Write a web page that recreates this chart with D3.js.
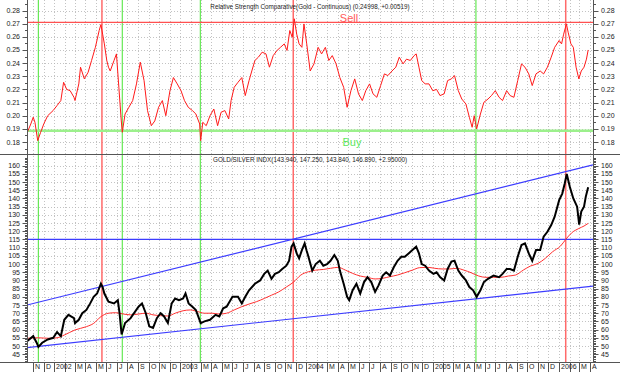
<!DOCTYPE html>
<html>
<head>
<meta charset="utf-8">
<script src="https://cdn.jsdelivr.net/npm/d3@7"></script>
<style>
  body { margin: 0; background: #fff; }
  svg { display: block; font-family: "Liberation Sans", Arial, sans-serif; }
  .lbl { font-size: 7px; fill: #222; }
  .ttl { font-size: 6.3px; fill: #222; }
</style>
</head>
<body>
<div id="chart"></div>
<script>
// Relative Strength Comparative (Gold - Continuous), top panel
const rsc = [
  ["2001-10-15",0.1874],["2001-10-25",0.1937],["2001-11-01",0.1988],["2001-11-06",0.195],["2001-11-14",0.181],
  ["2001-11-22",0.187],["2001-12-02",0.194],["2001-12-13",0.200],["2001-12-29",0.204],["2002-01-09",0.2077],
  ["2002-01-20",0.2115],["2002-01-28",0.2254],["2002-02-06",0.220],["2002-02-16",0.219],["2002-02-27",0.214],
  ["2002-03-02",0.2115],["2002-03-13",0.2242],["2002-03-18",0.2369],["2002-03-29",0.228],["2002-04-09",0.233],
  ["2002-04-19",0.242],["2002-04-30",0.252],["2002-05-11",0.2648],["2002-05-16",0.2693],["2002-05-21",0.262],
  ["2002-05-26",0.2546],["2002-06-02",0.242],["2002-06-07",0.2369],["2002-06-12",0.234],["2002-06-23",0.242],
  ["2002-06-30",0.247],["2002-07-07",0.2216],["2002-07-14",0.196],["2002-07-17",0.1874],["2002-07-25",0.2013],
  ["2002-08-05",0.2064],["2002-08-16",0.2115],["2002-08-27",0.2242],["2002-09-07",0.2407],["2002-09-18",0.2267],
  ["2002-09-28",0.2039],["2002-10-09",0.1924],["2002-10-19",0.196],["2002-10-30",0.2064],["2002-11-10",0.2115],
  ["2002-11-20",0.200],["2002-12-02",0.219],["2002-12-12",0.229],["2002-12-23",0.2242],["2003-01-03",0.219],
  ["2003-01-13",0.2115],["2003-01-24",0.2064],["2003-02-05",0.2039],["2003-02-15",0.2013],["2003-02-26",0.1937],
  ["2003-03-01",0.181],["2003-03-07",0.195],["2003-03-17",0.1924],["2003-03-28",0.200],["2003-04-08",0.2051],
  ["2003-04-19",0.1924],["2003-04-29",0.2026],["2003-05-10",0.2039],["2003-05-21",0.1975],["2003-05-28",0.2115],
  ["2003-06-06",0.2216],["2003-06-17",0.2254],["2003-06-28",0.229],["2003-07-08",0.2153],["2003-07-19",0.2267],
  ["2003-07-27",0.234],["2003-08-05",0.242],["2003-08-15",0.2445],["2003-08-26",0.2483],["2003-09-06",0.247],
  ["2003-09-16",0.2369],["2003-09-27",0.2457],["2003-10-08",0.2496],["2003-10-18",0.252],["2003-10-29",0.2546],
  ["2003-11-06",0.2496],["2003-11-14",0.2648],["2003-11-21",0.2597],["2003-11-27",0.2737],["2003-12-04",0.262],
  ["2003-12-11",0.2546],["2003-12-19",0.252],["2003-12-25",0.2698],["2004-01-02",0.2546],["2004-01-12",0.234],
  ["2004-01-23",0.2394],["2004-02-04",0.252],["2004-02-14",0.247],["2004-02-25",0.252],["2004-03-06",0.242],
  ["2004-03-16",0.2457],["2004-03-27",0.2394],["2004-04-07",0.229],["2004-04-18",0.2216],["2004-04-28",0.2064],
  ["2004-05-09",0.219],["2004-05-20",0.228],["2004-05-31",0.2166],["2004-06-11",0.2115],["2004-06-21",0.219],
  ["2004-07-02",0.2242],["2004-07-12",0.2166],["2004-07-23",0.214],["2004-08-03",0.2229],["2004-08-14",0.2318],
  ["2004-08-24",0.2305],["2004-09-05",0.234],["2004-09-16",0.2369],["2004-09-26",0.2445],["2004-10-07",0.2394],
  ["2004-10-17",0.243],["2004-10-28",0.242],["2004-11-08",0.2457],["2004-11-14",0.247],["2004-11-22",0.2369],
  ["2004-11-30",0.2267],["2004-12-10",0.2242],["2004-12-21",0.2242],["2005-01-01",0.219],["2005-01-12",0.220],
  ["2005-01-22",0.2153],["2005-02-03",0.2166],["2005-02-13",0.2267],["2005-02-24",0.228],["2005-03-05",0.2305],
  ["2005-03-16",0.219],["2005-03-26",0.2127],["2005-04-07",0.2089],["2005-04-17",0.1988],["2005-04-25",0.1912],
  ["2005-05-01",0.200],["2005-05-08",0.1899],["2005-05-19",0.2013],["2005-05-29",0.2102],["2005-06-10",0.2127],
  ["2005-06-20",0.2153],["2005-07-01",0.219],["2005-07-12",0.214],["2005-07-22",0.2115],["2005-08-03",0.219],
  ["2005-08-13",0.2153],["2005-08-24",0.214],["2005-09-04",0.2267],["2005-09-15",0.2394],["2005-09-25",0.2369],
  ["2005-10-06",0.2318],["2005-10-16",0.2229],["2005-10-27",0.2318],["2005-11-08",0.234],["2005-11-18",0.2318],
  ["2005-11-29",0.2369],["2005-12-10",0.2445],["2005-12-20",0.252],["2006-01-02",0.2572],["2006-01-09",0.2546],
  ["2006-01-15",0.262],["2006-01-23",0.2698],["2006-01-28",0.2635],["2006-02-05",0.2546],["2006-02-12",0.252],
  ["2006-02-20",0.2369],["2006-02-28",0.228],["2006-03-07",0.234],["2006-03-15",0.2369],["2006-03-22",0.243],
  ["2006-03-27",0.24998]
];

// GOLD/SILVER INDX close, bottom panel
const ratio = [
  ["2001-10-15",53],["2001-11-01",56],["2001-11-11",52],["2001-11-16",49.5],["2001-11-27",52],
  ["2001-12-13",54],["2001-12-29",55],["2002-01-09",58.5],["2002-01-20",56],["2002-01-30",66],
  ["2002-02-11",69],["2002-02-27",67],["2002-03-02",64],["2002-03-13",66],["2002-03-23",70],
  ["2002-04-04",72],["2002-04-15",76],["2002-04-25",80],["2002-05-05",82],["2002-05-16",88],
  ["2002-05-21",86],["2002-05-26",82],["2002-06-07",77],["2002-06-23",76],["2002-07-04",78],
  ["2002-07-09",70],["2002-07-15",57],["2002-07-25",64],["2002-08-10",67],["2002-09-02",74],
  ["2002-09-12",76],["2002-09-23",70],["2002-10-03",62],["2002-10-14",61],["2002-10-25",67],
  ["2002-11-05",70],["2002-11-15",68],["2002-11-26",64],["2002-12-07",76],["2002-12-17",79],
  ["2002-12-28",78],["2003-01-09",79],["2003-01-16",82],["2003-01-25",76],["2003-02-05",74],
  ["2003-02-15",72],["2003-03-01",64],["2003-03-12",65],["2003-03-28",66],["2003-04-13",69],
  ["2003-04-24",68],["2003-05-05",73],["2003-05-15",74],["2003-06-01",80],["2003-06-17",80],
  ["2003-06-28",76],["2003-07-08",80],["2003-07-19",84],["2003-08-05",88],["2003-08-20",90],
  ["2003-09-01",94],["2003-09-11",96],["2003-09-22",91],["2003-10-02",94],["2003-10-13",95],
  ["2003-10-23",97],["2003-11-04",99],["2003-11-12",102],["2003-11-19",110.6],["2003-11-25",112.6],
  ["2003-12-04",106.5],["2003-12-11",103.5],["2003-12-19",108.5],["2003-12-27",112.6],["2004-01-02",108],
  ["2004-01-07",104.5],["2004-01-18",96],["2004-01-28",100],["2004-02-09",102],["2004-02-19",99],
  ["2004-03-01",100],["2004-03-11",102],["2004-03-22",105.5],["2004-04-01",102],["2004-04-07",96],
  ["2004-04-18",88],["2004-04-28",80],["2004-05-04",78],["2004-05-14",84],["2004-05-25",88],
  ["2004-06-05",82],["2004-06-16",89],["2004-06-26",92],["2004-07-07",89],["2004-07-18",83],
  ["2004-07-28",87],["2004-08-09",93],["2004-08-19",95],["2004-08-30",93],["2004-09-10",98],
  ["2004-09-21",102],["2004-10-02",104.5],["2004-10-12",104.5],["2004-10-23",106.5],["2004-11-03",108.5],
  ["2004-11-14",110.6],["2004-11-22",106.5],["2004-11-30",100],["2004-12-10",99],["2004-12-21",96],
  ["2005-01-03",94],["2005-01-12",95],["2005-01-22",92],["2005-02-03",90],["2005-02-13",97],
  ["2005-02-24",101.5],["2005-03-05",102],["2005-03-16",96],["2005-03-26",93],["2005-04-07",90],
  ["2005-04-17",86],["2005-04-28",84],["2005-05-08",80],["2005-05-19",84],["2005-05-29",89],
  ["2005-06-10",91],["2005-06-26",93],["2005-07-12",92],["2005-07-22",94],["2005-08-03",97],
  ["2005-08-13",97],["2005-08-24",96],["2005-09-04",104.5],["2005-09-15",111.6],["2005-09-25",112.6],
  ["2005-10-06",106.5],["2005-10-16",102],["2005-10-27",108.5],["2005-11-08",108.5],["2005-11-18",116.7],
  ["2005-11-29",119.7],["2005-12-10",123.8],["2005-12-20",128.9],["2006-01-02",139],["2006-01-11",143],
  ["2006-01-18",149],["2006-01-24",155],["2006-02-02",147],["2006-02-12",140],["2006-02-23",135],
  ["2006-03-01",124],["2006-03-07",132],["2006-03-15",135],["2006-03-20",141],["2006-03-27",146.89]
];

// moving average of the index (red)
const movAvg = [
  ["2001-10-15",54.7],["2001-11-16",55],["2001-12-18",54.7],["2002-01-09",55],["2002-01-30",56.7],
  ["2002-03-02",59.8],["2002-04-04",61.8],["2002-04-25",63.8],["2002-05-16",67.9],["2002-06-07",70],
  ["2002-06-28",70.3],["2002-07-20",69.5],["2002-08-10",69],["2002-09-02",69.5],["2002-09-23",70],
  ["2002-10-14",69],["2002-11-05",68.5],["2002-11-26",68.3],["2002-12-17",70],["2003-01-09",71.5],
  ["2003-01-30",72],["2003-02-20",71],["2003-03-12",70],["2003-04-03",70],["2003-04-24",69.5],
  ["2003-05-15",70],["2003-06-06",72],["2003-06-28",74],["2003-07-19",75.6],["2003-08-09",77],
  ["2003-09-01",79],["2003-09-22",81],["2003-10-13",83],["2003-11-04",86],["2003-11-25",89],
  ["2003-12-16",93.3],["2004-01-07",95.3],["2004-01-28",96.3],["2004-02-19",96.7],["2004-03-11",97.4],
  ["2004-04-02",98],["2004-04-23",96.3],["2004-05-14",94.3],["2004-06-05",92.7],["2004-06-26",91.9],
  ["2004-07-18",90.9],["2004-08-09",91.3],["2004-08-30",92.3],["2004-09-21",93.3],["2004-10-12",94.7],
  ["2004-11-03",96.3],["2004-11-24",97.8],["2004-12-16",98],["2005-01-07",97.4],["2005-01-28",97],
  ["2005-02-19",97],["2005-03-11",97.4],["2005-04-01",96.3],["2005-04-22",94.7],["2005-05-14",92.7],
  ["2005-06-04",91.9],["2005-06-26",91.9],["2005-07-17",91.9],["2005-08-08",92.7],["2005-08-29",93.3],
  ["2005-09-20",96.3],["2005-10-11",98.8],["2005-11-02",100.4],["2005-11-23",103.5],["2005-12-14",107.5],
  ["2006-01-06",111],["2006-01-21",115],["2006-02-07",119],["2006-02-28",121.7],["2006-03-15",123.2],
  ["2006-03-27",124.8]
];

// signal lines
const sellDates = ["2002-05-19", "2003-11-24", "2006-01-21"];
const buyDates = ["2001-11-16", "2002-07-17", "2003-02-28", "2005-05-06"];
const sellLevel = 0.271;
const buyLevel = 0.1885;
const resistLevel = 115;
// trend channel: [date, value]
const upperTrend = [["2001-10-14", 75], ["2006-04-10", 160.5]];
const lowerTrend = [["2001-10-14", 49], ["2006-04-10", 86.5]];

const topTicks = [0.18, 0.19, 0.20, 0.21, 0.22, 0.23, 0.24, 0.25, 0.26, 0.27, 0.28];
const botTicks = d3.range(45, 161, 5);
const monthLetters = ["J", "F", "M", "A", "M", "J", "J", "A", "S", "O", "N", "D"];

const topTitle = "Relative Strength Comparative(Gold - Continuous) (0.24998, +0.00519)";
const botTitle = "GOLD/SILVER INDX(143.940, 147.250, 143.840, 146.890, +2.95000)";

const width = 620, height = 372;
const left = 27, right = 593;
const topPane = [0, 154], botPane = [155, 362];
const parse = d3.timeParse("%Y-%m-%d");

const svg = d3.select("#chart").append("svg").attr("width", width).attr("height", height);

const x = d3.scaleTime()
    .domain([parse("2001-10-14"), parse("2006-04-10")])
    .range([left, right]);
const yTop = d3.scaleLinear().domain([0.18, 0.28]).range([142, 10.5]);
const yBot = d3.scaleLinear().domain([50, 160]).range([346, 165.7]);

// clip paths for each pane
const defs = svg.append("defs");
defs.append("clipPath").attr("id", "clipTop").append("rect")
    .attr("x", left).attr("y", topPane[0]).attr("width", right - left).attr("height", topPane[1] - topPane[0]);
defs.append("clipPath").attr("id", "clipBot").append("rect")
    .attr("x", left).attr("y", botPane[0]).attr("width", right - left).attr("height", botPane[1] - botPane[0]);

const months = d3.timeMonth.range(parse("2001-11-01"), parse("2006-04-11"));

// grid
const grid = svg.append("g").attr("stroke", "#b4b4b4").attr("stroke-dasharray", "1,2").attr("stroke-width", 0.8);
grid.selectAll(".vg").data(months).join("line")
    .attr("x1", d => Math.round(x(d)) + 0.5).attr("x2", d => Math.round(x(d)) + 0.5)
    .attr("y1", 0).attr("y2", botPane[1]);
grid.selectAll(".ht").data(topTicks).join("line")
    .attr("x1", left).attr("x2", right)
    .attr("y1", d => Math.round(yTop(d)) + 0.5).attr("y2", d => Math.round(yTop(d)) + 0.5);
grid.selectAll(".hb").data(botTicks.filter(d => d >= 50)).join("line")
    .attr("x1", left).attr("x2", right)
    .attr("y1", d => Math.round(yBot(d)) + 0.5).attr("y2", d => Math.round(yBot(d)) + 0.5);

// vertical signal lines through both panes
svg.append("g").selectAll("line").data(buyDates).join("line")
    .attr("x1", d => x(parse(d))).attr("x2", d => x(parse(d)))
    .attr("y1", 0).attr("y2", botPane[1])
    .attr("stroke", "#66e855").attr("stroke-width", 1.2);
svg.append("g").selectAll("line").data(sellDates).join("line")
    .attr("x1", d => x(parse(d))).attr("x2", d => x(parse(d)))
    .attr("y1", 0).attr("y2", botPane[1])
    .attr("stroke", "#ff6a6a").attr("stroke-width", 1.5);

// top pane
const topG = svg.append("g").attr("clip-path", "url(#clipTop)");
topG.append("line").attr("x1", left).attr("x2", right)
    .attr("y1", yTop(buyLevel)).attr("y2", yTop(buyLevel))
    .attr("stroke", "#9cf08c").attr("stroke-width", 2.5);
topG.append("line").attr("x1", left).attr("x2", right)
    .attr("y1", yTop(sellLevel)).attr("y2", yTop(sellLevel))
    .attr("stroke", "#ff5050").attr("stroke-width", 1.2);
topG.append("path").datum(rsc)
    .attr("fill", "none").attr("stroke", "#ff1a1a").attr("stroke-width", 1)
    .attr("d", d3.line().x(d => x(parse(d[0]))).y(d => yTop(d[1])));

svg.append("text").attr("x", 349).attr("y", 22).attr("text-anchor", "middle")
    .attr("font-size", 11).attr("fill", "#ff5a5a").text("Sell");
svg.append("text").attr("x", 352).attr("y", 146).attr("text-anchor", "middle")
    .attr("font-size", 11).attr("fill", "#5ee85e").text("Buy");

// bottom pane
const botG = svg.append("g").attr("clip-path", "url(#clipBot)");
const trendLine = d3.line().x(d => x(parse(d[0]))).y(d => yBot(d[1]));
botG.append("line").attr("x1", left).attr("x2", right)
    .attr("y1", yBot(resistLevel)).attr("y2", yBot(resistLevel))
    .attr("stroke", "#3c3cff").attr("stroke-width", 1.2);
[upperTrend, lowerTrend].forEach(t => {
    botG.append("path").datum(t).attr("fill", "none")
        .attr("stroke", "#3c3cff").attr("stroke-width", 1.2).attr("d", trendLine);
});
botG.append("path").datum(movAvg)
    .attr("fill", "none").attr("stroke", "#ff3030").attr("stroke-width", 1)
    .attr("d", d3.line().curve(d3.curveMonotoneX).x(d => x(parse(d[0]))).y(d => yBot(d[1])));
botG.append("path").datum(ratio)
    .attr("fill", "none").attr("stroke", "#000").attr("stroke-width", 2)
    .attr("stroke-linejoin", "miter")
    .attr("d", d3.line().x(d => x(parse(d[0]))).y(d => yBot(d[1])));

// frame
const frame = svg.append("g").attr("stroke", "#555").attr("stroke-width", 1);
frame.append("line").attr("x1", left + 0.5).attr("x2", left + 0.5).attr("y1", 0).attr("y2", botPane[1]);
frame.append("line").attr("x1", right + 0.5).attr("x2", right + 0.5).attr("y1", 0).attr("y2", botPane[1]);
frame.append("line").attr("x1", 0).attr("x2", width).attr("y1", topPane[1] + 0.5).attr("y2", topPane[1] + 0.5);
frame.append("line").attr("x1", 0).attr("x2", width).attr("y1", botPane[1] + 0.5).attr("y2", botPane[1] + 0.5);

// y axes (both sides)
function sideAxis(scale, ticks, minor, fmt) {
    const g = svg.append("g");
    [[left, -1], [right, 1]].forEach(([ax, dir]) => {
        g.selectAll(null).data(minor).join("line")
            .attr("x1", ax + 0.5).attr("x2", ax + 0.5 + dir * 2.5)
            .attr("y1", d => Math.round(scale(d)) + 0.5).attr("y2", d => Math.round(scale(d)) + 0.5)
            .attr("stroke", "#555");
        g.selectAll(null).data(ticks).join("line")
            .attr("x1", ax + 0.5).attr("x2", ax + 0.5 + dir * 5)
            .attr("y1", d => Math.round(scale(d)) + 0.5).attr("y2", d => Math.round(scale(d)) + 0.5)
            .attr("stroke", "#555");
        g.selectAll(null).data(ticks).join("text")
            .attr("class", "lbl")
            .attr("x", dir < 0 ? 20 : 601)
            .attr("y", d => scale(d) + 2.5)
            .attr("text-anchor", dir < 0 ? "end" : "start")
            .text(fmt);
    });
}
sideAxis(yTop, topTicks, d3.range(0.175, 0.2851, 0.005), d3.format(".2f"));
sideAxis(yBot, botTicks, d3.range(41, 166, 1), d => d);

// x axis
const xg = svg.append("g");
xg.selectAll("line").data(months).join("line")
    .attr("x1", d => Math.round(x(d)) + 0.5).attr("x2", d => Math.round(x(d)) + 0.5)
    .attr("y1", botPane[1]).attr("y2", height)
    .attr("stroke", "#555");
xg.selectAll("text").data(months.filter(d => d.getMonth() !== 1)).join("text")
    .attr("class", "lbl")
    .attr("x", d => Math.round(x(d)) + 2)
    .attr("y", 369)
    .text(d => d.getMonth() === 0 ? d.getFullYear() : monthLetters[d.getMonth()]);

// titles
svg.append("text").attr("class", "ttl").attr("x", 310).attr("y", 9).attr("text-anchor", "middle").text(topTitle);
svg.append("text").attr("class", "ttl").attr("x", 310).attr("y", 162).attr("text-anchor", "middle").text(botTitle);
</script>
</body>
</html>
